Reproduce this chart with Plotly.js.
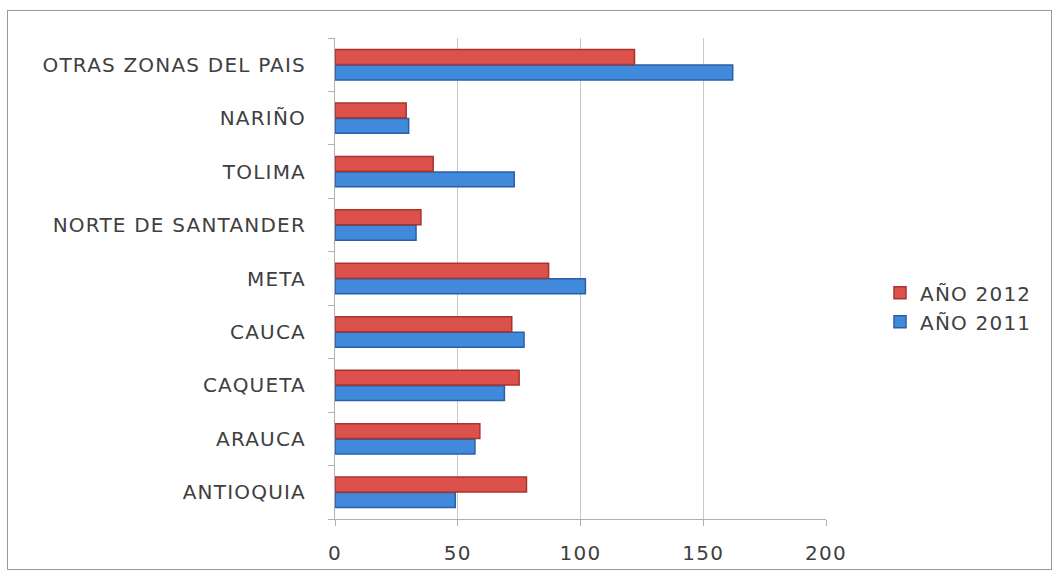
<!DOCTYPE html>
<html>
<head>
<meta charset="utf-8">
<script src="https://cdn.plot.ly/plotly-3.0.1.min.js"></script>
<style>
html,body{margin:0;padding:0;background:#fff;}
#wrap{position:relative;width:1058px;height:579px;}
#chart{position:absolute;left:0;top:0;width:1058px;height:579px;}
#frame{position:absolute;left:7px;top:10px;width:1043px;height:558px;border:1px solid #9a9a9a;pointer-events:none;}
.xtick text, .ytick text, .legendtext{letter-spacing:1.2px;}
</style>
</head>
<body>
<div id="wrap"><div id="chart"></div><div id="frame"></div></div>
<script>
const categories = ["ANTIOQUIA","ARAUCA","CAQUETA","CAUCA","META","NORTE DE SANTANDER","TOLIMA","NARIÑO","OTRAS ZONAS DEL PAIS"];
const values2011 = [49, 57, 69, 77, 102, 33, 73, 30, 162];
const values2012 = [78, 59, 75, 72, 87, 35, 40, 29, 122];
const xTicks = [0, 50, 100, 150, 200];

const font = "'DejaVu Sans', sans-serif";

const traces = [
  {type:"bar", orientation:"h", name:"AÑO 2011", y:categories, x:values2011,
   marker:{color:"#4189da", line:{color:"#2a5fa8", width:1.5}}},
  {type:"bar", orientation:"h", name:"AÑO 2012", y:categories, x:values2012,
   marker:{color:"#dc514b", line:{color:"#a8342f", width:1.5}}}
];

const layout = {
  width:1058, height:579,
  margin:{l:335, r:232, t:38, b:60},
  paper_bgcolor:"#ffffff", plot_bgcolor:"#ffffff",
  barmode:"group", bargap:0.42, bargroupgap:0.04,
  font:{family:font, size:20, color:"#404040"},
  showlegend:true,
  legend:{x:1.11, xanchor:"left", y:0.44, yanchor:"middle", traceorder:"reversed",
          font:{family:font, size:20, color:"#404040"}, itemwidth:30, tracegroupgap:6},
  xaxis:{range:[0,200], tickvals:xTicks, ticktext:xTicks.map(String), showgrid:true, gridcolor:"#c8c8c8", gridwidth:1,
         zeroline:false, showline:true, linecolor:"#b0b0b0", linewidth:1,
         ticks:"outside", ticklen:6, tickcolor:"#b0b0b0", ticklabelstandoff:10,
         tickfont:{family:font, size:20, color:"#404040"}, fixedrange:true},
  yaxis:{type:"category", showgrid:false, zeroline:false, showline:true, linecolor:"#b0b0b0", linewidth:1,
         ticks:"outside", tickson:"boundaries", ticklen:6, tickcolor:"#b0b0b0", ticklabelstandoff:24,
         tickfont:{family:font, size:20, color:"#404040"}, fixedrange:true}
};

Plotly.newPlot("chart", traces, layout, {displayModeBar:false, staticPlot:true});
</script>
</body>
</html>
